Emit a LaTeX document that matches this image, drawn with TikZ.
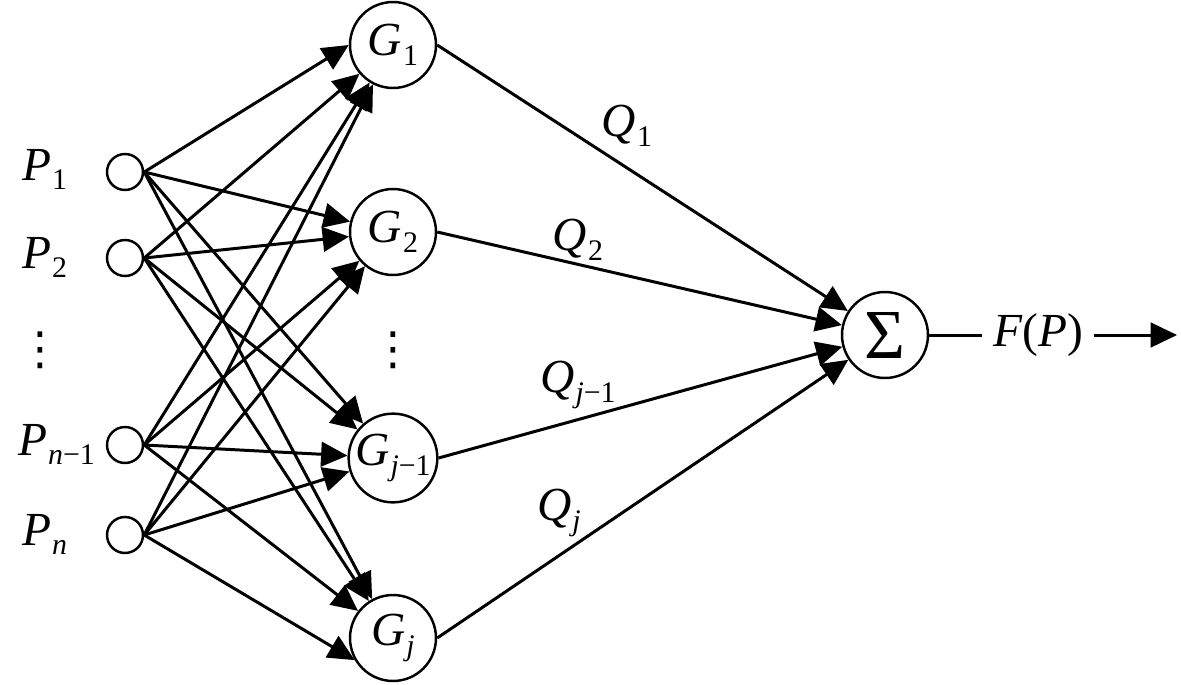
\documentclass[tikz,border=0pt]{standalone}
\usepackage{fontspec}
\setmainfont{Liberation Serif}
\newfontfamily\dotsfont{DejaVu Sans}
\usetikzlibrary{arrows.meta}

% letter with a lowered index
\newcommand{\withsub}[2]{\textit{#1}\kern0.5pt\raisebox{-0.45ex}{\fontsize{17}{20}\selectfont #2}}

\begin{document}
\begin{tikzpicture}[
    x = 0.02cm, y = -0.02cm,
    font = \fontsize{27}{30}\selectfont,
      input/.style={draw, circle, line width=1.4pt, minimum size=0.72cm, inner sep=0pt},
      unit/.style={draw, circle, line width=1.4pt, minimum size=1.72cm, inner sep=0pt},
      adder/.style={draw, circle, line width=1.4pt, minimum size=1.72cm, inner sep=0pt, font=\fontsize{40}{44}\selectfont},
      label/.style={anchor=base west, inner sep=0pt},
      dots/.style={font=\dotsfont\fontsize{26}{30}\selectfont, inner sep=0pt},
      arrow/.style={-{Triangle[length=15pt, width=14pt]}, line width=1.7pt, color=black},
      link/.style={line width=1.7pt, color=black}
  ]
      \useasboundingbox (0, 0) rectangle (1181, 684);

      % Inputs
      \node (p1) at (125, 172) [input] {};
      \node (p2) at (125, 258) [input] {};
      \node (pm) at (125, 445) [input] {};
      \node (pn) at (125, 535) [input] {};

      \node (p1lab) at (22, 180) [label] {\withsub{P}{1}};
      \node (p2lab) at (22, 268) [label] {\withsub{P}{2}};
      \node (pdots) at (40, 350) [dots] {⋮};
      \node (pmlab) at (18, 455) [label] {\withsub{P}{\textit{n}−1}};
      \node (pnlab) at (22, 545) [label] {\withsub{P}{\textit{n}}};

      % Hidden units
      \node (g1) at (393, 45) [unit] {\withsub{G}{1}};
      \node (g2) at (393, 232) [unit] {\withsub{G}{2}};
      \node (gdots) at (393, 350) [dots] {⋮};
      \node (gm) at (393, 458) [unit] {\withsub{G}{\textit{j}−1}};
      \node (gj) at (393, 638) [unit] {\withsub{G}{\textit{j}}};

      % Sum
      \node (sum) at (885, 335) [adder] {Σ};

      % Output
      \node (fp) at (1038, 335) [inner sep=6pt] {\textit{F}(\textit{P})};
      \coordinate (out) at (1177, 335);

      % Arrows from inputs
      \draw[arrow] (p1.east) -- (g1.west);
      \draw[arrow] (p1.east) -- (g2);
      \draw[arrow] (p1.east) -- (gm);
      \draw[arrow] (p1.east) -- (gj);

      \draw[arrow] (p2.east) -- (g1);
      \draw[arrow] (p2.east) -- (g2);
      \draw[arrow] (p2.east) -- (gm);
      \draw[arrow] (p2.east) -- (gj);

      \draw[arrow] (pm.east) -- (g1);
      \draw[arrow] (pm.east) -- (g2);
      \draw[arrow] (pm.east) -- (gm);
      \draw[arrow] (pm.east) -- (gj);

      \draw[arrow] (pn.east) -- (g1);
      \draw[arrow] (pn.east) -- (g2);
      \draw[arrow] (pn.east) -- (gm);
      \draw[arrow] (pn.east) -- (gj.210);

      % Arrows to sum
      \draw[arrow] (g1.east) -- (sum);
      \draw[arrow] (g2.east) -- (sum);
      \draw[arrow] (gm.east) -- (sum);
      \draw[arrow] (gj.east) -- (sum);

      \node (q1) at (627, 126) {\withsub{Q}{1}};
      \node (q2) at (578, 240) {\withsub{Q}{2}};
      \node (qm) at (578, 385) {\withsub{Q}{\textit{j}−1}};
      \node (qj) at (559, 513) {\withsub{Q}{\textit{j}}};

      % Result
      \draw[link] (sum.east) -- (fp.west);
      \draw[arrow] (fp.east) -- (out);
  \end{tikzpicture}
\end{document}
